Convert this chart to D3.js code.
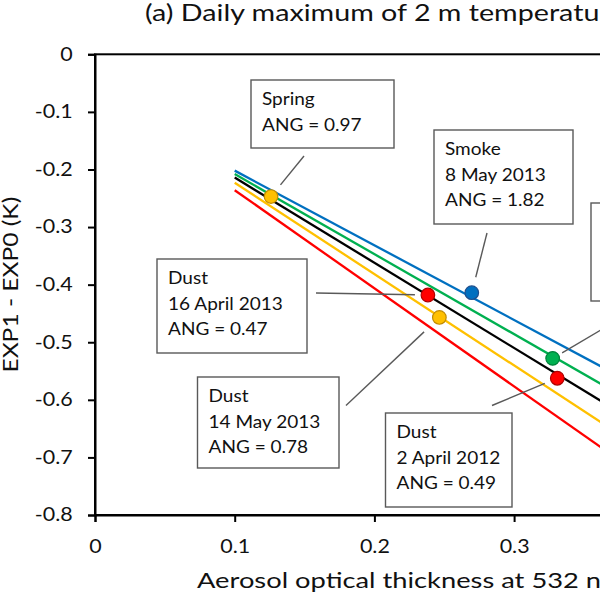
<!DOCTYPE html>
<html>
<head>
<meta charset="utf-8">
<script src="https://cdn.jsdelivr.net/npm/d3@7"></script>
<style>
  html, body { margin: 0; padding: 0; background: #fff; overflow: hidden; }
  svg { display: block; font-family: Lato, "Open Sans", sans-serif; }
</style>
</head>
<body>
<script>
// --- data ---
const xTicks = [0, 0.1, 0.2, 0.3, 0.4];
const yTicks = [0, -0.1, -0.2, -0.3, -0.4, -0.5, -0.6, -0.7, -0.8];

// fitted lines, start at AOT 0.1 and run off the right side
const lineX = [0.1, 0.4];
const blueLine = [-0.202, -0.591];
const greenLine = [-0.208, -0.625];
const blackLine = [-0.214, -0.658];
const yellowLine = [-0.223, -0.699];
const redLine = [-0.236, -0.747];

// case points
const pointX = [0.126, 0.2383, 0.2465, 0.2697, 0.3276, 0.3309];
const pointY = [-0.247, -0.418, -0.457, -0.414, -0.528, -0.5625];
const pointKind = ["yellow", "red", "yellow", "blue", "green", "red"];

// annotation texts, one per point
const noteText = [
  ["Spring", "ANG = 0.97"],
  ["Dust", "16 April 2013", "ANG = 0.47"],
  ["Dust", "14 May 2013", "ANG = 0.78"],
  ["Smoke", "8 May 2013", "ANG = 1.82"],
  [],
  ["Dust", "2 April 2012", "ANG = 0.49"]
];

// --- layout ---
const width = 600, height = 600;
const colors = {
  blue:   { fill: "#0070C0", stroke: "#1f4e8c" },
  green:  { fill: "#00B050", stroke: "#00803a" },
  black:  { fill: "#000000", stroke: "#000000" },
  yellow: { fill: "#FFC000", stroke: "#c08a00" },
  red:    { fill: "#FF0000", stroke: "#b00000" }
};

// box placement for each note (pixels), leader start, gap before the dot
const noteBox = [
  { x: 251, y: 80, w: 143, h: 68, lx: 304, ly: 156, gap: 15 },
  { x: 157, y: 259, w: 150, h: 94, lx: 316, ly: 293, gap: 13 },
  { x: 197.5, y: 377, w: 141.5, h: 91, lx: 346, ly: 405.5, gap: 21 },
  { x: 434, y: 130, w: 139, h: 94, lx: 487, ly: 233, gap: 16 },
  { x: 591, y: 203, w: 120, h: 98, lx: 640, ly: 307, gap: 11 },
  { x: 385.5, y: 413, w: 126.5, h: 94, lx: 492, ly: 405.5, gap: 13.5 }
];

// the source text is wide for its height, so stretch it sideways
function stretch(sel, sx) {
  sel.each(function() {
    const t = d3.select(this);
    const tx = +t.attr("x") || 0, ty = +t.attr("y") || 0;
    t.attr("x", 0).attr("y", 0)
     .attr("transform", `translate(${tx},${ty}) scale(${sx},1)`);
  });
}

const svg = d3.select("body").append("svg")
    .attr("width", width)
    .attr("height", height);

const x = d3.scaleLinear().domain([0, 0.4]).range([95, 653.8]);
const y = d3.scaleLinear().domain([-0.8, 0]).range([515, 54.3]);

// title (runs off the right edge like the source)
svg.append("text")
    .attr("x", 145).attr("y", 21)
    .attr("font-size", 22.5).attr("fill", "#111")
    .text("(a) Daily maximum of 2 m temperature")
    .call(stretch, 1.275);

// plot frame
svg.append("rect")
    .attr("x", x(0)).attr("y", y(0))
    .attr("width", x(0.4) - x(0)).attr("height", y(-0.8) - y(0))
    .attr("fill", "none").attr("stroke", "#000").attr("stroke-width", 2);

// axes
const yAxis = d3.axisLeft(y).tickValues(yTicks).tickSize(7).tickPadding(15.3)
    .tickFormat(d => d === 0 ? "0" : d3.format(".1f")(d).replace("−", "-"));
const gy = svg.append("g").attr("transform", `translate(${x(0)},0)`).call(yAxis);

const xAxis = d3.axisBottom(x).tickValues(xTicks).tickSize(7).tickPadding(18)
    .tickFormat(d => d === 0 ? "0" : d3.format(".1f")(d));
const gx = svg.append("g").attr("transform", `translate(0,${y(-0.8)})`).call(xAxis);

[gx, gy].forEach(g => {
  g.select(".domain").attr("stroke", "#000").attr("stroke-width", 2);
  g.selectAll(".tick line").attr("stroke", "#000").attr("stroke-width", 2);
  g.selectAll(".tick text").attr("font-size", 18.5).attr("fill", "#111")
      .attr("font-family", "Lato, 'Open Sans', sans-serif")
      .call(stretch, 1.16);
});

// axis titles
svg.append("text")
    .attr("x", 197).attr("y", 588)
    .attr("font-size", 21.5).attr("fill", "#111")
    .text("Aerosol optical thickness at 532 nm")
    .call(stretch, 1.27);

svg.append("text")
    .attr("transform", `translate(17.5,${(y(0) + y(-0.8)) / 2}) rotate(-90) scale(1.2,1)`)
    .attr("text-anchor", "middle")
    .attr("font-size", 20.5).attr("fill", "#111")
    .text("EXP1 - EXP0 (K)");

// regression lines
const series = [
  ["blue", blueLine], ["green", greenLine], ["black", blackLine],
  ["yellow", yellowLine], ["red", redLine]
];
const line = d3.line().x(d => x(d[0])).y(d => y(d[1]));
svg.append("g").selectAll("path")
  .data(series)
  .enter().append("path")
    .attr("d", d => line(lineX.map((v, i) => [v, d[1][i]])))
    .attr("fill", "none")
    .attr("stroke", d => colors[d[0]].fill)
    .attr("stroke-width", 2.3);

// leader lines, stop short of the dot
const leaders = svg.append("g");
noteBox.forEach((b, i) => {
  const px = x(pointX[i]), py = y(pointY[i]);
  const dx = px - b.lx, dy = py - b.ly;
  const len = Math.hypot(dx, dy);
  leaders.append("line")
      .attr("x1", b.lx).attr("y1", b.ly)
      .attr("x2", px - dx / len * b.gap).attr("y2", py - dy / len * b.gap)
      .attr("stroke", "#595959").attr("stroke-width", 1.4);
});

// note boxes
const notes = svg.append("g").selectAll("g")
  .data(noteBox)
  .enter().append("g");

notes.append("rect")
    .attr("x", d => d.x).attr("y", d => d.y)
    .attr("width", d => d.w).attr("height", d => d.h)
    .attr("fill", "#fff").attr("stroke", "#595959").attr("stroke-width", 1.4);

notes.each(function(d, i) {
  d3.select(this).selectAll("text")
    .data(noteText[i])
    .enter().append("text")
      .attr("x", d.x + 11)
      .attr("y", (t, j) => d.y + 19.5 + j * 25.5)
      .attr("dy", "0.35em")
      .attr("font-size", 17).attr("fill", "#111")
      .text(t => t)
      .call(stretch, 1.12);
});

// points
svg.append("g").selectAll("circle")
  .data(pointX)
  .enter().append("circle")
    .attr("cx", d => x(d))
    .attr("cy", (d, i) => y(pointY[i]))
    .attr("r", 6.8)
    .attr("fill", (d, i) => colors[pointKind[i]].fill)
    .attr("stroke", (d, i) => colors[pointKind[i]].stroke)
    .attr("stroke-width", 1.2);
</script>
</body>
</html>
